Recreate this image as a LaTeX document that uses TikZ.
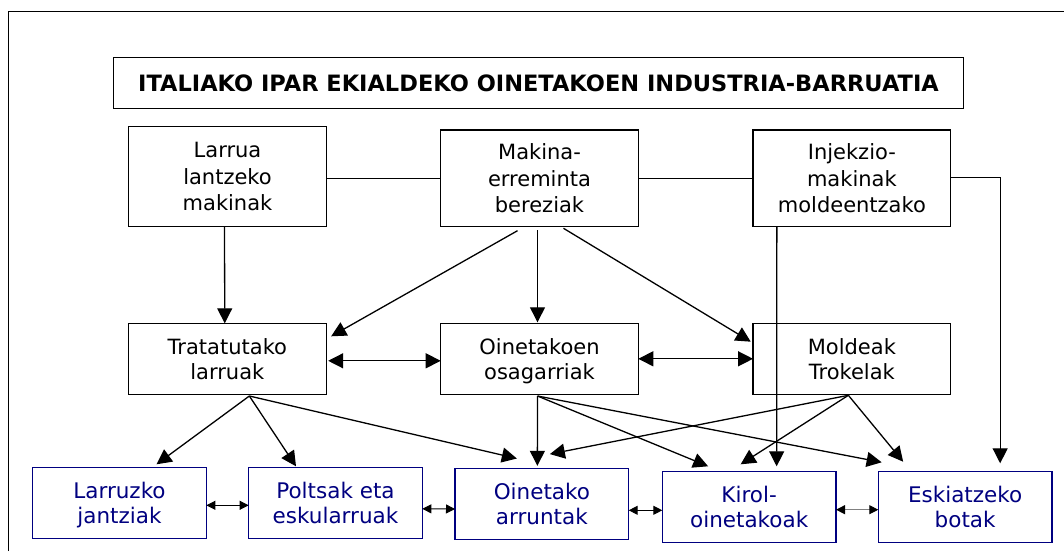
\documentclass[tikz,border=0pt]{standalone}
\usepackage{fontspec}
\setmainfont{DejaVu Sans}
\usetikzlibrary{arrows.meta}
\definecolor{lanblue}{RGB}{0,0,128}

\begin{document}
\begin{tikzpicture}[x=1pt,y=-1pt,
    kutxa/.style={draw, line width=1.3pt, inner sep=0pt, outer sep=0pt, align=center, text depth=0pt,
      font=\fontsize{21}{26.3}\selectfont},
    goikutxa/.style={kutxa, minimum width=197.6pt, minimum height=96.3pt},
    erdikutxa/.style={kutxa, minimum width=197.6pt, minimum height=71pt, font=\fontsize{21}{25.3}\selectfont},
    produktu/.style={kutxa, draw=lanblue, text=lanblue, minimum width=173.7pt, minimum height=71pt,
      font=\fontsize{21.5}{25.4}\selectfont},
    gezi/.style={line width=1.3pt, -{Triangle[length=15pt,width=15pt]}},
    bigezi/.style={line width=1.3pt, {Triangle[length=15pt,width=15pt]}-{Triangle[length=15pt,width=15pt]}},
    gezitxiki/.style={line width=1pt, {Triangle[length=9pt,width=9pt,color=black]}-{Triangle[length=9pt,width=9pt,color=black]}}]
  \useasboundingbox (0,0) rectangle (1064,551);

  % frame
  \draw[line width=1.3pt] (8.3,551) -- (8.3,11.3) -- (1064,11.3);

  % title
  \node[kutxa, minimum width=849.6pt, minimum height=51pt, font=\bfseries\fontsize{22.5}{26}\selectfont]
    (izenburu) at (538.5,83) {ITALIAKO IPAR EKIALDEKO OINETAKOEN INDUSTRIA-BARRUATIA};

  % machines
  \node[goikutxa, minimum height=99.6pt] (larrua) at (227.5,176.5) {Larrua\\lantzeko\\makinak};
  \node[goikutxa] (erreminta) at (539.5,178.15) {Makina-\\erreminta\\bereziak};
  \node[goikutxa] (injekzio) at (851.85,178.15) {Injekzio-\\makinak\\moldeentzako};

  % components
  \node[erdikutxa] (tratatu) at (227.35,358.8) {Tratatutako\\larruak};
  \node[erdikutxa] (osagarri) at (539.5,358.8) {Oinetakoen\\osagarriak};
  \node[erdikutxa] (moldeak) at (851.85,358.8) {Moldeak\\Trokelak};

  % products
  \node[produktu] (jantzi) at (119.5,502.8) {Larruzko\\jantziak};
  \node[produktu] (poltsak) at (335.5,502.8) {Poltsak eta\\eskularruak};
  \node[produktu] (arrunt) at (541.85,504) {Oinetako\\arruntak};
  \node[produktu, minimum height=71.4pt] (kirol) at (749.15,507) {Kirol-\\oinetakoak};
  \node[produktu, minimum height=71.4pt] (eskiatu) at (965.15,507) {Eskiatzeko\\botak};

  % top links
  \draw[line width=1.3pt] (larrua.east |- erreminta.west) -- (erreminta.west);
  \draw[line width=1.3pt] (erreminta.east) -- (injekzio.west);
  \draw[gezi] ([yshift=1pt]injekzio.east) -| ([xshift=35pt,yshift=8pt]eskiatu.north);
  \draw[gezi] ([xshift=-75pt]injekzio.south) -- ([xshift=27.5pt,yshift=5pt]kirol.north);

  % machines to components
  \draw[gezi] ([xshift=-3pt]larrua.south) -- ([xshift=-2.6pt]tratatu.north);
  \draw[gezi] ([xshift=-22pt,yshift=-4.4pt]erreminta.south) -- ([xshift=5pt,yshift=-13pt]tratatu.north east);
  \draw[gezi] ([xshift=-2pt,yshift=-4pt]erreminta.south) -- ([xshift=-2pt,yshift=1pt]osagarri.north);
  \draw[gezi] ([xshift=24pt,yshift=-2pt]erreminta.south) -- ([xshift=-2.3pt,yshift=-18.4pt]moldeak.north west);

  \draw[bigezi] ([xshift=2pt,yshift=-2pt]tratatu.east) -- ([yshift=-2pt]osagarri.west);
  \draw[bigezi] (osagarri.east) -- (moldeak.west);

  % components to products
  \coordinate (tratatuBehe) at ([xshift=22pt,yshift=-1.7pt]tratatu.south);
  \coordinate (osagarriBehe) at ([xshift=-2pt,yshift=-1.7pt]osagarri.south);
  \coordinate (moldeakBehe) at ([xshift=-3.5pt,yshift=-1pt]moldeak.south);

  \draw[gezi] (tratatuBehe) -- ([xshift=37pt,yshift=3pt]jantzi.north);
  \draw[gezi] (tratatuBehe) -- ([xshift=-39.5pt,yshift=1pt]poltsak.north);
  \draw[gezi] (tratatuBehe) -- ([xshift=-25pt,yshift=10pt]arrunt.north);

  \draw[gezi] (osagarriBehe) -- ([xshift=-4.5pt,yshift=2.7pt]arrunt.north);
  \draw[gezi] (osagarriBehe) -- ([xshift=-41pt,yshift=5pt]kirol.north);
  \draw[gezi] (osagarriBehe) -- ([xshift=-83.5pt,yshift=9pt]eskiatu.north);

  \draw[gezi] (moldeakBehe) -- ([xshift=8pt,yshift=14.4pt]arrunt.north);
  \draw[gezi] (moldeakBehe) -- ([xshift=-8.5pt,yshift=7pt]kirol.north);
  \draw[gezi] (moldeakBehe) -- ([xshift=-62pt,yshift=9.6pt]eskiatu.north);

  % between products
  \draw[gezitxiki] ([yshift=-2.5pt]jantzi.east) -- ([yshift=-2.5pt]poltsak.west);
  \draw[gezitxiki] ([yshift=-6pt]poltsak.east) -- ([yshift=-5pt]arrunt.west);
  \draw[gezitxiki] ([yshift=-6.3pt]arrunt.east) -- ([yshift=-3.3pt]kirol.west);
  \draw[gezitxiki, draw=gray] ([yshift=-2.7pt]kirol.east) -- ([yshift=-2.7pt]eskiatu.west);
\end{tikzpicture}
\end{document}
